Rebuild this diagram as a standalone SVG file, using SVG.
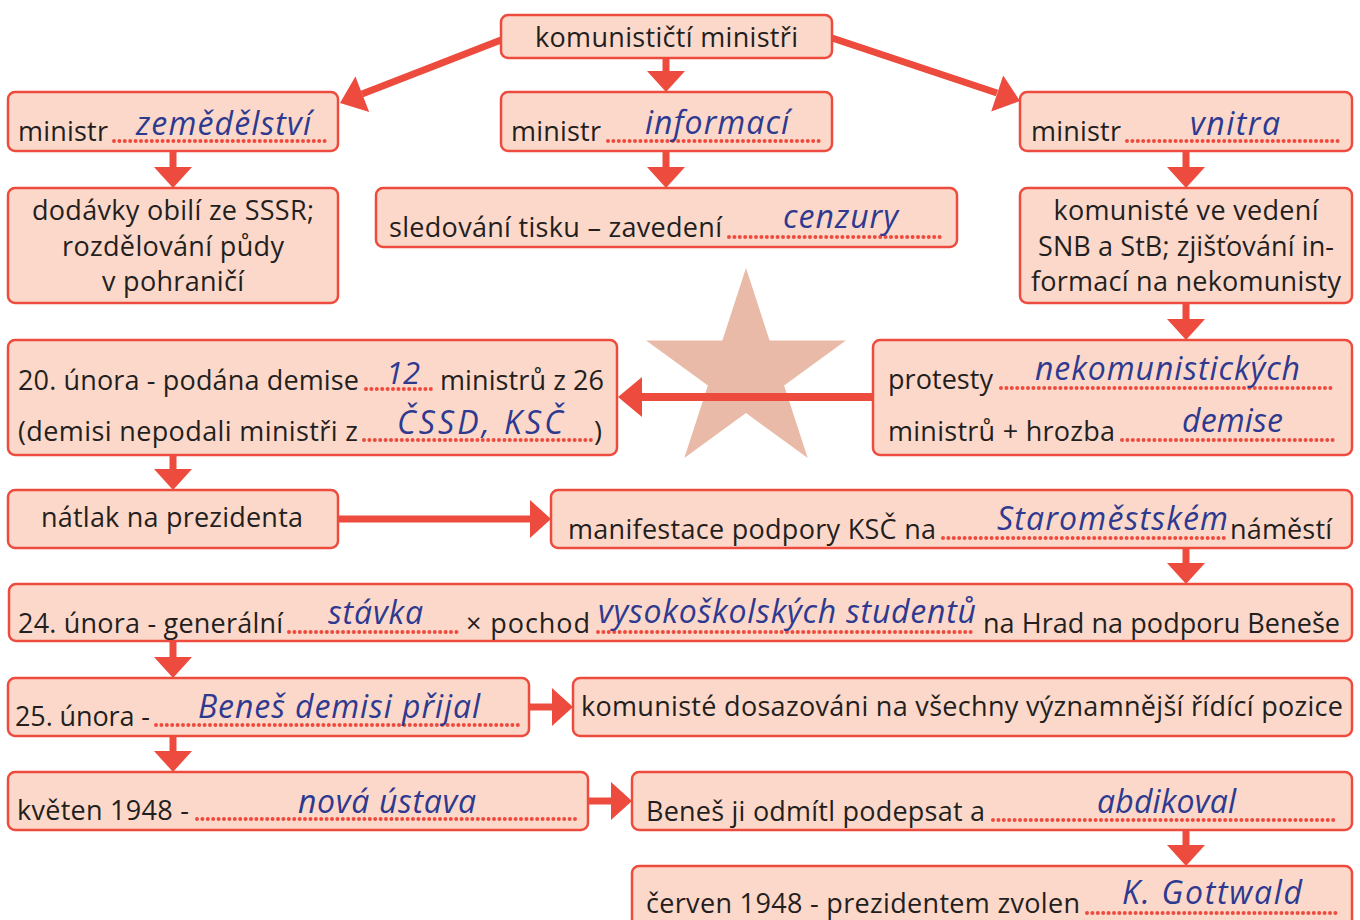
<svg xmlns="http://www.w3.org/2000/svg" width="1360" height="920" viewBox="0 0 1360 920">
<style>
.box{fill:#fcd8ca;stroke:#ee4b3f;stroke-width:2.5}
.t{font-family:"Open Sans","Noto Sans","Liberation Sans",sans-serif;font-size:27px;fill:#231f20}
.c{text-anchor:middle}
.h{font-family:"Open Sans","Noto Sans","Liberation Sans",sans-serif;font-style:italic;font-size:32px;fill:#2e3a8f}
.dot{stroke:#ee4b3f;stroke-width:4;stroke-linecap:round;stroke-dasharray:0 5.4;fill:none}
.ln{stroke:#ee4b3f;stroke-width:7;fill:none}
.hd{fill:#ee4b3f}
</style>
<rect width="1360" height="920" fill="#ffffff"/>
<polygon id="star" fill="#e9baa8" points="746,268 769.6,340.6 845.9,340.6 784.1,385.4 807.7,457.9 746,413.1 684.3,457.9 707.9,385.4 646.1,340.6 722.4,340.6"/>
<g id="connectors">
<line class="ln" x1="501" y1="40" x2="362" y2="94"/>
<polygon class="hd" points="340,103 369.2,112 355.4,76.6"/>
<line class="ln" x1="832" y1="38" x2="997" y2="93"/>
<polygon class="hd" points="1020,101 991.2,111.4 1003.2,75.4"/>
<line class="ln" x1="666" y1="58" x2="666" y2="72"/><polygon class="hd" points="647,71 685,71 666,92"/>
<line class="ln" x1="173" y1="151" x2="173" y2="168"/><polygon class="hd" points="154,167 192,167 173,188"/>
<line class="ln" x1="666" y1="151" x2="666" y2="168"/><polygon class="hd" points="647,167 685,167 666,188"/>
<line class="ln" x1="1186" y1="151" x2="1186" y2="168"/><polygon class="hd" points="1167,167 1205,167 1186,188"/>
<line class="ln" x1="1186" y1="303" x2="1186" y2="320"/><polygon class="hd" points="1167,319 1205,319 1186,340"/>
<line class="ln" x1="173" y1="455" x2="173" y2="470"/><polygon class="hd" points="154,469 192,469 173,490"/>
<line class="ln" x1="1186" y1="548" x2="1186" y2="564"/><polygon class="hd" points="1167,563 1205,563 1186,584"/>
<line class="ln" x1="173" y1="641" x2="173" y2="658"/><polygon class="hd" points="154,657 192,657 173,678"/>
<line class="ln" x1="173" y1="736" x2="173" y2="752"/><polygon class="hd" points="154,751 192,751 173,772"/>
<line class="ln" x1="1186" y1="830" x2="1186" y2="846"/><polygon class="hd" points="1167,845 1205,845 1186,866"/>
<line class="ln" x1="338" y1="519" x2="531" y2="519"/><polygon class="hd" points="530,500 530,538 551,519"/>
<line class="ln" x1="529" y1="707" x2="553" y2="707"/><polygon class="hd" points="552,688 552,726 573,707"/>
<line class="ln" x1="588" y1="801" x2="612" y2="801"/><polygon class="hd" points="611,782 611,820 632,801"/>
<line class="ln" style="stroke-width:8" x1="873" y1="397" x2="640" y2="397"/><polygon class="hd" points="642,377 642,417 618,397"/>
</g>
<g id="n1"><rect class="box" x="501" y="15" width="331" height="43" rx="7"/><text class="t" x="535" y="47" textLength="263">komunističtí ministři</text></g>
<g id="n2"><rect class="box" x="8" y="92" width="330" height="59" rx="7"/><text class="t" x="18" y="141" textLength="90">ministr</text><line class="dot" x1="114" y1="141" x2="328" y2="141"/><text class="h" x="136" y="135" textLength="175">zemědělství</text></g>
<g id="n3"><rect class="box" x="501" y="92" width="331" height="59" rx="7"/><text class="t" x="511" y="141" textLength="90">ministr</text><line class="dot" x1="608" y1="141" x2="822" y2="141"/><text class="h" x="645" y="134" textLength="144">informací</text></g>
<g id="n4"><rect class="box" x="1020" y="92" width="332" height="59" rx="7"/><text class="t" x="1031" y="141" textLength="90">ministr</text><line class="dot" x1="1127" y1="141" x2="1340" y2="141"/><text class="h" x="1190" y="135" textLength="90">vnitra</text></g>
<g id="n5"><rect class="box" x="8" y="188" width="330" height="115" rx="7"/><text class="t c" x="173" y="220" textLength="282">dodávky obilí ze SSSR;</text><text class="t c" x="173" y="256" textLength="222">rozdělování půdy</text><text class="t c" x="173" y="291" textLength="142">v pohraničí</text></g>
<g id="n6"><rect class="box" x="376" y="188" width="581" height="59" rx="7"/><text class="t" x="389" y="237" textLength="333">sledování tisku – zavedení</text><line class="dot" x1="729" y1="237" x2="944" y2="237"/><text class="h" x="783" y="228" textLength="115">cenzury</text></g>
<g id="n7"><rect class="box" x="1020" y="188" width="332" height="115" rx="7"/><text class="t c" x="1186" y="220" textLength="265">komunisté ve vedení</text><text class="t c" x="1186" y="256" textLength="296">SNB a StB; zjišťování in-</text><text class="t c" x="1186" y="291" textLength="310">formací na nekomunisty</text></g>
<g id="n8"><rect class="box" x="8" y="340" width="609" height="115" rx="7"/><text class="t" x="18" y="390" textLength="341">20. února - podána demise</text><line class="dot" x1="366" y1="389" x2="433" y2="389"/><text class="h" x="386" y="384" style="font-size:31px">12</text><text class="t" x="440" y="390" textLength="164">ministrů z 26</text><text class="t" x="18" y="441" textLength="340">(demisi nepodali ministři z</text><line class="dot" x1="364" y1="440" x2="593" y2="440"/><text class="h" x="397" y="434" textLength="166">ČSSD, KSČ</text><text class="t" x="594" y="441">)</text></g>
<g id="n9"><rect class="box" x="873" y="340" width="479" height="115" rx="7"/><text class="t" x="888" y="389" textLength="105">protesty</text><line class="dot" x1="1001" y1="388" x2="1335" y2="388"/><text class="h" x="1035" y="380" textLength="265">nekomunistických</text><text class="t" x="888" y="441" textLength="227">ministrů + hrozba</text><line class="dot" x1="1122" y1="440" x2="1335" y2="440"/><text class="h" x="1182" y="432" textLength="101">demise</text></g>
<g id="n10"><rect class="box" x="8" y="490" width="330" height="58" rx="7"/><text class="t" x="41" y="527" textLength="262">nátlak na prezidenta</text></g>
<g id="n11"><rect class="box" x="551" y="490" width="801" height="58" rx="7"/><text class="t" x="568" y="539" textLength="368">manifestace podpory KSČ na</text><line class="dot" x1="943" y1="538" x2="1228" y2="538"/><text class="h" x="997" y="530" textLength="231">Staroměstském</text><text class="t" x="1230" y="539" textLength="102">náměstí</text></g>
<g id="n12"><rect class="box" x="9" y="584" width="1343" height="57" rx="7"/><text class="t" x="18" y="633" textLength="265">24. února - generální</text><line class="dot" x1="289" y1="632" x2="460" y2="632"/><text class="h" x="328" y="624" textLength="95">stávka</text><text class="t" x="466" y="633" textLength="124">× pochod</text><line class="dot" x1="598" y1="632" x2="976" y2="632"/><text class="h" x="598" y="623" textLength="378">vysokoškolských studentů</text><text class="t" x="983" y="633" textLength="357">na Hrad na podporu Beneše</text></g>
<g id="n13"><rect class="box" x="8" y="678" width="521" height="58" rx="7"/><text class="t" x="15" y="726" textLength="135">25. února -</text><line class="dot" x1="156" y1="725" x2="522" y2="725"/><text class="h" x="198" y="718" textLength="282">Beneš demisi přijal</text></g>
<g id="n14"><rect class="box" x="573" y="678" width="779" height="58" rx="7"/><text class="t" x="581" y="716" textLength="762">komunisté dosazováni na všechny významnější řídící pozice</text></g>
<g id="n15"><rect class="box" x="8" y="772" width="580" height="58" rx="7"/><text class="t" x="17" y="820" textLength="172">květen 1948 -</text><line class="dot" x1="197" y1="819" x2="578" y2="819"/><text class="h" x="298" y="813" textLength="178">nová ústava</text></g>
<g id="n16"><rect class="box" x="632" y="772" width="720" height="58" rx="7"/><text class="t" x="646" y="821" textLength="339">Beneš ji odmítl podepsat a</text><line class="dot" x1="993" y1="820" x2="1336" y2="820"/><text class="h" x="1097" y="813" textLength="139">abdikoval</text></g>
<g id="n17"><rect class="box" x="632" y="866" width="720" height="70" rx="7"/><text class="t" x="646" y="913" textLength="434">červen 1948 - prezidentem zvolen</text><line class="dot" x1="1087" y1="913" x2="1336" y2="913"/><text class="h" x="1122" y="904" textLength="180">K. Gottwald</text></g>
</svg>
